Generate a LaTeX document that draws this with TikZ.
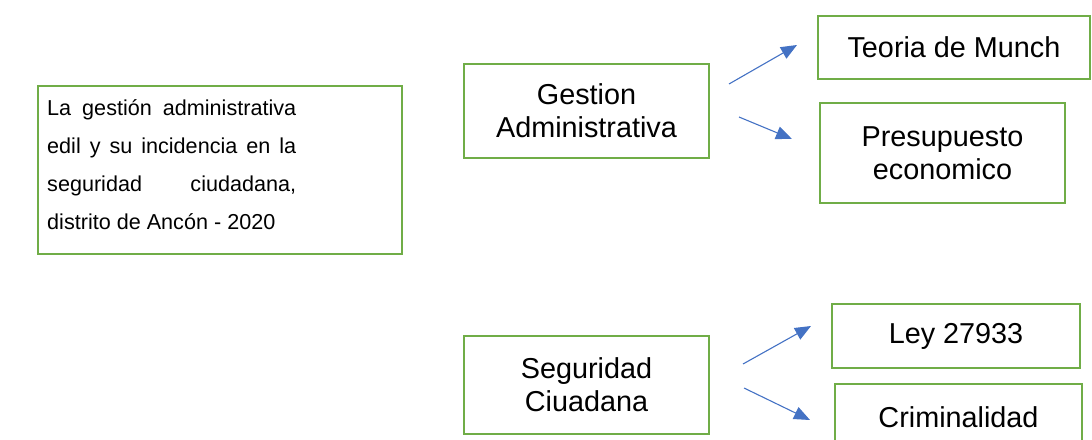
\documentclass[tikz,border=0pt]{standalone}
\usepackage{fontspec}
\setmainfont{Liberation Sans}
\usetikzlibrary{arrows.meta}
\definecolor{boxgreen}{RGB}{112,173,71}
\definecolor{arrblue}{RGB}{68,114,196}
\tikzset{
  gbox/.style={draw=boxgreen, line width=2.8pt, fill=white, inner sep=0pt, align=center,
    font=\fontsize{28.8}{33}\selectfont},
  conn/.style={draw=arrblue, line width=1.1pt, -{Triangle[length=16pt,width=13pt]}}
}
\begin{document}
\begin{tikzpicture}[x=1pt,y=-1pt]
\useasboundingbox (0,0) rectangle (1092,439);
% left box
\node[gbox, minimum width=364pt, minimum height=168pt] (main) at (220,170) {};
\node[anchor=north west, inner sep=0pt] (maintext) at (47,99)
  {\parbox[t]{249pt}{\fontsize{21.6}{38}\selectfont\parindent=0pt
   La gestión administrativa\linebreak edil y su incidencia en la\linebreak seguridad ciudadana,\linebreak
   distrito de Ancón - 2020}};
% first group
\node[gbox, minimum width=245pt, minimum height=94pt] (gest) at (586.5,111) {Gestion\\Administrativa};
\node[gbox, minimum width=272pt, minimum height=63pt] (teoria) at (954,47.5) {Teoria de Munch};
\node[gbox, minimum width=245pt, minimum height=100pt] (presu) at (942.5,153) {Presupuesto\\economico};
% second group
\node[gbox, minimum width=245pt, minimum height=98pt] (segu) at (586.5,385) {Seguridad\\Ciuadana};
\node[gbox, minimum width=248pt, minimum height=64pt] (ley) at (956,336) {Ley 27933};
\node[gbox, minimum width=247pt, minimum height=66pt] (crim) at (958.5,417) {Criminalidad};
% arrow ends
\coordinate (g1s) at (729,84);
\coordinate (g1e) at (797,45);
\coordinate (g2s) at (739,117);
\coordinate (g2e) at (792,139);
\coordinate (s1s) at (743,364);
\coordinate (s1e) at (811,326);
\coordinate (s2s) at (744,388);
\coordinate (s2e) at (810,420);
\draw[conn] (g1s) -- (g1e);
\draw[conn] (g2s) -- (g2e);
\draw[conn] (s1s) -- (s1e);
\draw[conn] (s2s) -- (s2e);
\end{tikzpicture}
\end{document}
